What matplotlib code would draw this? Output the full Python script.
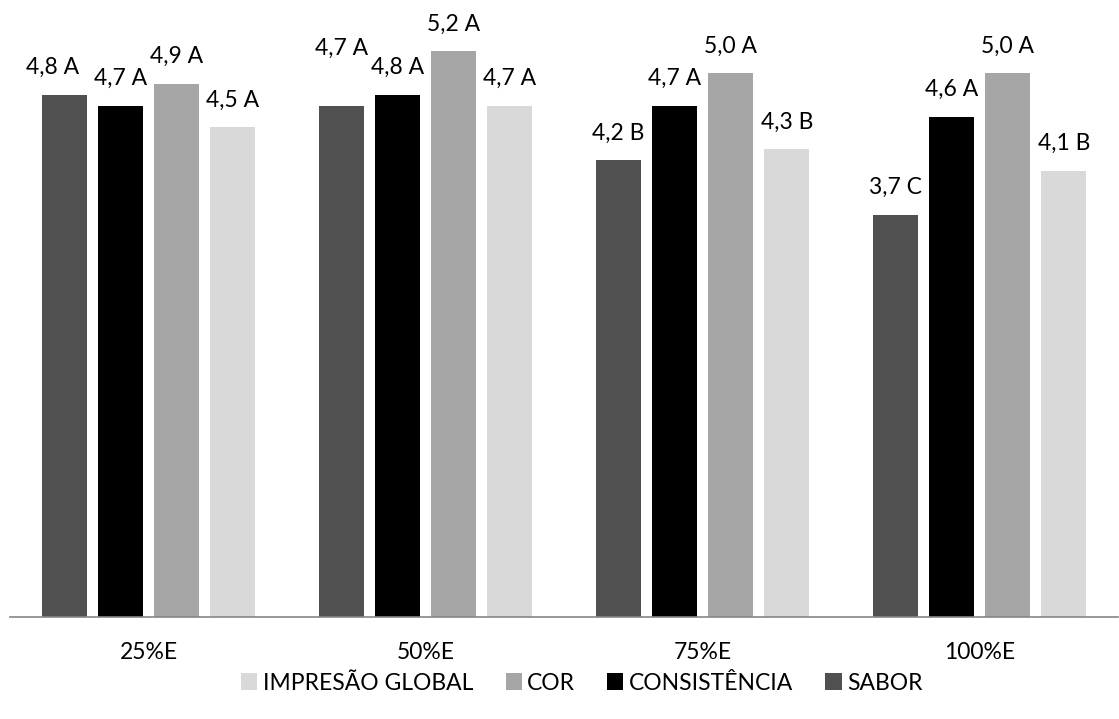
import matplotlib
matplotlib.use("Agg")
import matplotlib.pyplot as plt
import numpy as np

plt.rcParams['font.family'] = ['Lato', 'DejaVu Sans']

groups = ["25%E", "50%E", "75%E", "100%E"]
series = ["SABOR", "CONSISTÊNCIA", "COR", "IMPRESÃO GLOBAL"]
sabor = [4.8, 4.7, 4.2, 3.7]
consistencia = [4.7, 4.8, 4.7, 4.6]
cor = [4.9, 5.2, 5.0, 5.0]
impressao = [4.5, 4.7, 4.3, 4.1]
letters_sabor = ["A", "A", "B", "C"]
letters_consistencia = ["A", "A", "A", "A"]
letters_cor = ["A", "A", "A", "A"]
letters_impressao = ["A", "A", "B", "B"]

values = [sabor, consistencia, cor, impressao]
letters = [letters_sabor, letters_consistencia, letters_cor, letters_impressao]
colors = ["#505050", "#000000", "#a6a6a6", "#d9d9d9"]

# manual nudges (points) for labels that would collide with a neighbour
label_nudges = {(0, 0): (-8, 0), (0, 1): (0, 22)}

fs = 16.5

fig = plt.figure(figsize=(11.19, 7.19), dpi=100)
ax = fig.add_axes([10 / 1119, 102 / 719, 1108 / 1119, 607 / 719])

x = np.arange(len(groups))
step = 0.203
width = 0.163
handles = []
for i, (vals, lets, col, name) in enumerate(zip(values, letters, colors, series)):
    pos = x + (i - 1.5) * step
    bars = ax.bar(pos, vals, width=width, color=col, label=name, zorder=2)
    handles.append(bars)
    for j, (b, v, l) in enumerate(zip(bars, vals, lets)):
        dx, dy = label_nudges.get((i, j), (0, 0))
        ax.annotate(f"{v:.1f}".replace(".", ",") + " " + l,
                    (b.get_x() + b.get_width() / 2, b.get_height()),
                    xytext=(dx, 12 + dy), textcoords="offset points",
                    ha="center", va="bottom", fontsize=fs, color="#000000")

ax.set_xlim(-0.5, 3.5)
ax.set_ylim(0, 5.58)
ax.set_xticks(x)
ax.set_xticklabels(groups, fontsize=fs)
ax.tick_params(axis="x", length=0, pad=18)
ax.set_yticks([])
for s in ["top", "right", "left"]:
    ax.spines[s].set_visible(False)
ax.spines["bottom"].set_color("#868686")
ax.spines["bottom"].set_linewidth(1.2)

leg = fig.legend(handles[::-1], series[::-1], loc="center",
                 bbox_to_anchor=(582 / 1119, 1 - 683 / 719),
                 ncol=4, frameon=False, fontsize=fs, handlelength=0.7, handleheight=0.7,
                 handletextpad=0.25, columnspacing=1.4)

fig.savefig("out.png", dpi=100)
